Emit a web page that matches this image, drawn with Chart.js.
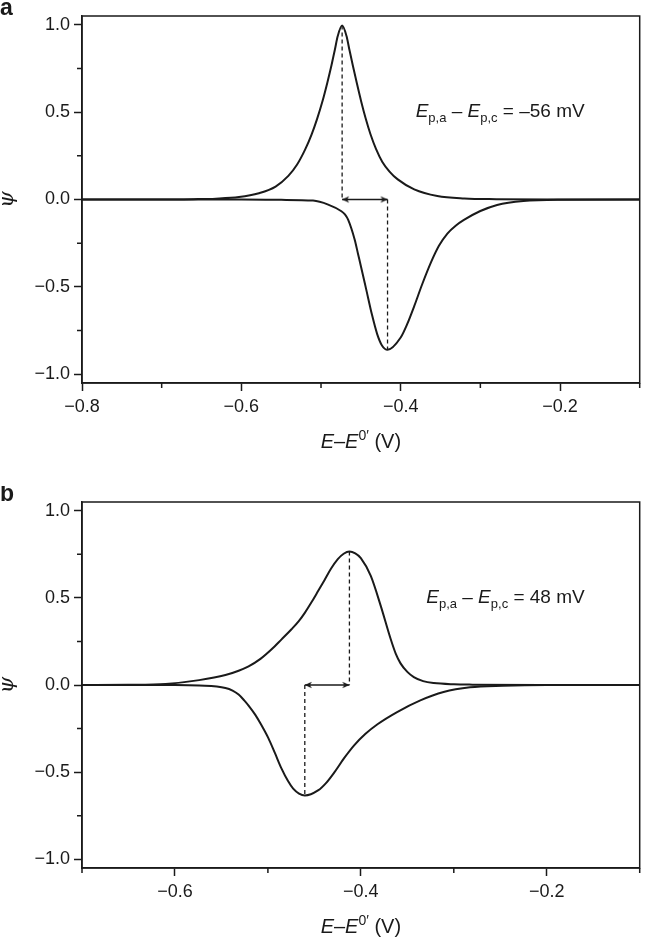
<!DOCTYPE html>
<html>
<head>
<meta charset="utf-8">
<script src="https://cdn.jsdelivr.net/npm/chart.js@4.4.1/dist/chart.umd.min.js"></script>
<style>
  html, body { margin: 0; padding: 0; background: #fff; }
  #wrap { position: relative; width: 645px; height: 938px; }
  canvas { position: absolute; left: 0; }
  #chartA { top: 0; }
  #chartB { top: 486px; }
</style>
</head>
<body>
<div id="wrap">
  <canvas id="chartA" width="645" height="486"></canvas>
  <canvas id="chartB" width="645" height="452"></canvas>
</div>
<script>
// --- panel a : values ---
const aOxE   = [-0.80, -0.70, -0.66, -0.632, -0.603, -0.578, -0.557, -0.541, -0.530, -0.520, -0.512, -0.505, -0.498, -0.492, -0.487, -0.4825, -0.479, -0.4735, -0.468, -0.4645, -0.460, -0.455, -0.4495, -0.444, -0.438, -0.431, -0.423, -0.414, -0.4037, -0.383, -0.354, -0.32, -0.28, -0.20, -0.10];
const aOxPsi = [0, 0, 0.002, 0.005, 0.014, 0.036, 0.074, 0.135, 0.20, 0.285, 0.37, 0.46, 0.565, 0.67, 0.765, 0.86, 0.935, 0.995, 0.935, 0.86, 0.765, 0.665, 0.56, 0.465, 0.375, 0.29, 0.215, 0.16, 0.115, 0.058, 0.02, 0.006, 0.002, 0, 0];
const aRedE   = [-0.80, -0.60, -0.55, -0.51, -0.491, -0.4744, -0.470, -0.466, -0.4577, -0.4536, -0.4495, -0.443, -0.436, -0.4295, -0.4235, -0.4165, -0.400, -0.392, -0.383, -0.373, -0.362, -0.352, -0.3414, -0.331, -0.3206, -0.300, -0.279, -0.246, -0.20, -0.10];
const aRedPsi = [0, 0, -0.002, -0.006, -0.029, -0.067, -0.085, -0.115, -0.23, -0.31, -0.39, -0.52, -0.66, -0.77, -0.835, -0.86, -0.79, -0.715, -0.61, -0.485, -0.36, -0.265, -0.195, -0.15, -0.117, -0.066, -0.031, -0.008, -0.001, 0];
const aPeakE   = [-0.4735, -0.4165];
const aPeakPsi = [0.995, -0.86];
const aTicksX = [-0.8, -0.6, -0.4, -0.2];
const aMinorX = [-0.7, -0.5, -0.3, -0.1];

// --- panel b ---
const bOxE   = [-0.70, -0.65, -0.61, -0.574, -0.5457, -0.5315, -0.5208, -0.508, -0.496, -0.4853, -0.4746, -0.467, -0.4603, -0.4533, -0.446, -0.439, -0.432, -0.4248, -0.4185, -0.4123, -0.406, -0.400, -0.3893, -0.3786, -0.368, -0.3625, -0.3573, -0.350, -0.343, -0.333, -0.3216, -0.30, -0.28, -0.20, -0.10];
const bOxPsi = [0, 0.001, 0.006, 0.028, 0.057, 0.082, 0.107, 0.15, 0.205, 0.262, 0.32, 0.365, 0.414, 0.473, 0.539, 0.603, 0.668, 0.722, 0.753, 0.766, 0.755, 0.728, 0.626, 0.454, 0.265, 0.18, 0.124, 0.075, 0.045, 0.022, 0.011, 0.004, 0.002, 0, 0];
const bRedE   = [-0.70, -0.60, -0.574, -0.5457, -0.538, -0.5315, -0.5255, -0.5208, -0.5137, -0.507, -0.4995, -0.4925, -0.4853, -0.4785, -0.4728, -0.4665, -0.4603, -0.4461, -0.437, -0.4283, -0.418, -0.407, -0.395, -0.3821, -0.361, -0.336, -0.311, -0.2826, -0.247, -0.20, -0.10];
const bRedPsi = [0, 0, -0.003, -0.017, -0.032, -0.055, -0.088, -0.118, -0.17, -0.23, -0.305, -0.39, -0.48, -0.55, -0.595, -0.623, -0.634, -0.605, -0.56, -0.50, -0.42, -0.345, -0.28, -0.225, -0.155, -0.088, -0.04, -0.013, -0.004, 0, 0];
const bPeakE   = [-0.4123, -0.4603];
const bPeakPsi = [0.766, -0.634];
const bTicksX = [-0.6, -0.4, -0.2];
const bMinorX = [-0.7, -0.5, -0.3, -0.1];

// shared y axis
const yTicks = [-1.0, -0.5, 0.0, 0.5, 1.0];
const yMinor = [-0.75, -0.25, 0.25, 0.75];

const INK = '#1a1a1a';
const SANS = '"Liberation Sans", Arial, Helvetica, sans-serif';

const fmt = v => (v < 0 ? '\u2212' : '') + Math.abs(v).toFixed(1);
const pts = (xs, ys) => xs.map((x, i) => ({ x: x, y: ys[i] }));

// small arrow head, tip at the image centre so it sits on the data point
function arrowHead() {
    const c = document.createElement('canvas');
    c.width = 16; c.height = 10;
    const g = c.getContext('2d');
    g.fillStyle = INK;
    g.beginPath();
    g.moveTo(8, 5); g.lineTo(1, 1.8); g.lineTo(2.8, 5); g.lineTo(1, 8.2);
    g.closePath(); g.fill();
    return c;
}
const HEAD = arrowHead();

// text with italic / sub / sup pieces
function drawRich(ctx, x, y, parts, size, align) {
    const fontOf = p => (p.it ? 'italic ' : '') + ((p.sub || p.sup) ? Math.round(size * 0.7) : size) + 'px ' + SANS;
    let w = 0;
    parts.forEach(p => { ctx.font = fontOf(p); w += ctx.measureText(p.t).width; });
    let cx = align === 'center' ? x - w / 2 : align === 'right' ? x - w : x;
    ctx.textAlign = 'left';
    ctx.textBaseline = 'alphabetic';
    ctx.fillStyle = INK;
    parts.forEach(p => {
        ctx.font = fontOf(p);
        const dy = p.sub ? size * 0.28 : p.sup ? -size * 0.42 : 0;
        ctx.fillText(p.t, cx, y + dy);
        cx += ctx.measureText(p.t).width;
    });
}

const framePlugin = {
    id: 'frame',
    afterDraw(chart, args, o) {
        const { ctx, chartArea: ca, scales } = chart;
        ctx.save();
        ctx.strokeStyle = INK;
        ctx.lineWidth = 1.5;
        ctx.strokeRect(ca.left, ca.top, ca.right - ca.left, ca.bottom - ca.top);
        // minor ticks
        ctx.beginPath();
        o.minorX.forEach(v => {
            const px = scales.x.getPixelForValue(v);
            ctx.moveTo(px, ca.bottom); ctx.lineTo(px, ca.bottom + 5);
        });
        o.minorY.forEach(v => {
            const py = scales.y.getPixelForValue(v);
            ctx.moveTo(ca.left - 5, py); ctx.lineTo(ca.left, py);
        });
        ctx.stroke();
        // panel letter, axis title, note
        ctx.font = 'bold 23px ' + SANS;
        ctx.fillStyle = INK;
        ctx.textAlign = 'left';
        ctx.textBaseline = 'alphabetic';
        ctx.fillText(o.letter, 0, ca.top - 1);
        drawRich(ctx, (ca.left + ca.right) / 2, ca.bottom + 65, [
            { t: 'E', it: true }, { t: '\u2013' }, { t: 'E', it: true }, { t: '0\u2032', sup: true }, { t: ' (V)' }
        ], 20, 'center');
        drawRich(ctx, ca.right - 55, ca.top + 101, [
            { t: 'E', it: true }, { t: 'p,a', sub: true }, { t: ' \u2013 ' },
            { t: 'E', it: true }, { t: 'p,c', sub: true }, { t: ' = ' + o.note }
        ], 19, 'right');
        ctx.restore();
    }
};

function makePanel(id, cfg) {
    const canvas = document.getElementById(id);
    const line = { borderColor: INK, borderWidth: 2, pointRadius: 0, fill: false, cubicInterpolationMode: 'monotone' };
    const dash = { borderColor: INK, borderWidth: 1.3, borderDash: [4, 3], pointRadius: 0, fill: false };
    const arrowLo = Math.min(cfg.peakE[0], cfg.peakE[1]);
    const arrowHi = Math.max(cfg.peakE[0], cfg.peakE[1]);

    return new Chart(canvas.getContext('2d'), {
        type: 'line',
        data: {
            datasets: [
                Object.assign({ label: 'oxidation', data: pts(cfg.oxE, cfg.oxPsi) }, line),
                Object.assign({ label: 'reduction', data: pts(cfg.redE, cfg.redPsi) }, line),
                Object.assign({ label: 'peak 1', data: [{ x: cfg.peakE[0], y: cfg.peakPsi[0] }, { x: cfg.peakE[0], y: 0 }] }, dash),
                Object.assign({ label: 'peak 2', data: [{ x: cfg.peakE[1], y: 0 }, { x: cfg.peakE[1], y: cfg.peakPsi[1] }] }, dash),
                {
                    label: 'separation',
                    data: [{ x: arrowLo, y: 0 }, { x: arrowHi, y: 0 }],
                    borderColor: INK, borderWidth: 1.3, fill: false,
                    pointStyle: HEAD, pointRadius: 4, pointRotation: [180, 0]
                }
            ]
        },
        options: {
            responsive: false,
            animation: false,
            events: [],
            layout: { padding: { top: 16, left: 0, right: 2, bottom: 0 } },
            plugins: {
                legend: { display: false },
                tooltip: { enabled: false },
                frame: { minorX: cfg.minorX, minorY: yMinor, letter: cfg.letter, note: cfg.note }
            },
            scales: {
                x: {
                    type: 'linear', min: cfg.xMin, max: cfg.xMax,
                    afterBuildTicks: s => { s.ticks = cfg.ticksX.map(v => ({ value: v })); },
                    afterFit: s => { s.height = cfg.xHeight; },
                    ticks: { callback: fmt, color: INK, font: { family: SANS, size: 18 }, padding: 5, maxRotation: 0, autoSkip: false },
                    grid: { drawOnChartArea: false, tickLength: 8, tickColor: INK, tickWidth: 1.5 },
                    border: { display: true, color: INK, width: 1.5 }
                },
                y: {
                    type: 'linear', min: -1.05, max: 1.05,
                    afterBuildTicks: s => { s.ticks = yTicks.map(v => ({ value: v })); },
                    afterFit: s => { s.width = 82; },
                    ticks: { callback: fmt, color: INK, font: { family: SANS, size: 18 }, padding: 4 },
                    grid: { drawOnChartArea: false, tickLength: 8, tickColor: INK, tickWidth: 1.5 },
                    border: { display: true, color: INK, width: 1.5 },
                    title: {
                        display: true, text: '\u03c8', color: INK,
                        font: { family: '"DejaVu Serif", "Liberation Serif", serif', style: 'italic', size: 21, lineHeight: 1 },
                        padding: { top: -3, bottom: 0 }
                    }
                }
            }
        },
        plugins: [framePlugin]
    });
}

window.onload = () => {
    makePanel('chartA', {
        letter: 'a', note: '\u201356 mV',
        xMin: -0.8, xMax: -0.1, ticksX: aTicksX, minorX: aMinorX, xHeight: 103,
        oxE: aOxE, oxPsi: aOxPsi, redE: aRedE, redPsi: aRedPsi,
        peakE: aPeakE, peakPsi: aPeakPsi
    });
    makePanel('chartB', {
        letter: 'b', note: '48 mV',
        xMin: -0.7, xMax: -0.1, ticksX: bTicksX, minorX: bMinorX, xHeight: 70,
        oxE: bOxE, oxPsi: bOxPsi, redE: bRedE, redPsi: bRedPsi,
        peakE: bPeakE, peakPsi: bPeakPsi
    });
};
</script>
</body>
</html>
